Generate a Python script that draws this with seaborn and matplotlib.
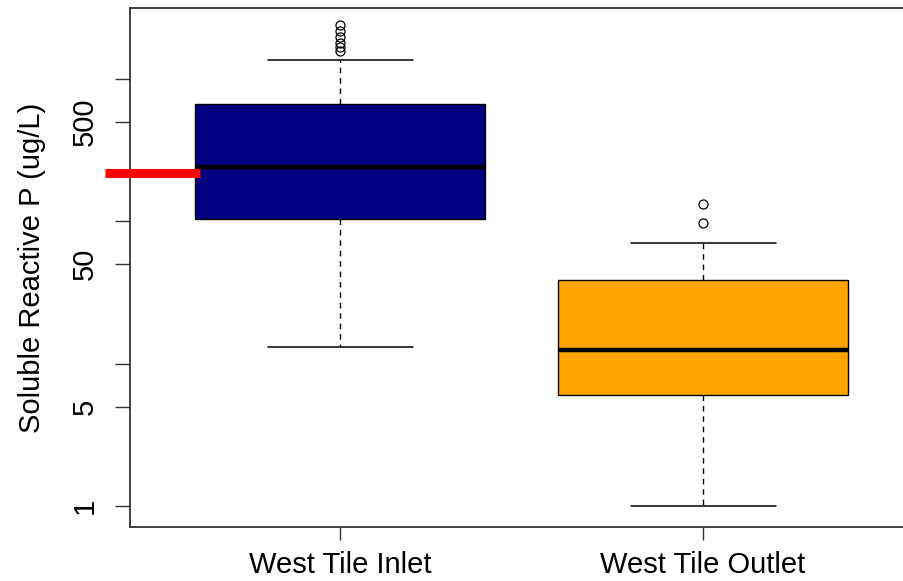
import numpy as np
import pandas as pd
import matplotlib
matplotlib.use("Agg")
import matplotlib.pyplot as plt
import seaborn as sns

# ---------------------------------------------------------
# Data (ug/L)
# ---------------------------------------------------------
sites = ["West Tile Inlet", "West Tile Outlet"]
box_colors = ["#000080", "#FFA500"]

# low whisker, Q1, median, Q3, high whisker
inlet_summary = [13.1, 104, 242, 665, 1362]
outlet_summary = [1.0, 6.03, 12.5, 38.7, 70.9]
inlet_outliers = [1574, 1682, 1794, 1977, 2178, 2400]
outlet_outliers = [97, 132]

target_srp = 220  # red reference mark left of the inlet box

y_ticks = [1, 5, 10, 50, 100, 500, 1000]
y_tick_labels = ["1", "5", "", "50", "", "500", ""]


def sample_from_summary(summary, outliers):
    # sample whose quartiles / whiskers equal the summary (n = 4k + 1)
    lo, q1, med, q3, hi = summary
    k = 1 + len(outliers)
    return [lo] + [q1] * k + [med] * k + [q3] * k + [hi] + list(outliers)


df = pd.concat([
    pd.DataFrame({"site": sites[0], "srp": sample_from_summary(inlet_summary, inlet_outliers)}),
    pd.DataFrame({"site": sites[1], "srp": sample_from_summary(outlet_summary, outlet_outliers)}),
])

# ---------------------------------------------------------
# Plot
# ---------------------------------------------------------
sns.set_style("ticks")
plt.rcParams["font.family"] = ["Liberation Sans", "DejaVu Sans"]
plt.rcParams["text.color"] = "black"
plt.rcParams["axes.labelcolor"] = "black"
plt.rcParams["xtick.labelcolor"] = "black"
plt.rcParams["ytick.labelcolor"] = "black"

fig = plt.figure(figsize=(9.04, 5.81), dpi=100)
ax = fig.add_axes([0.1438, 0.0929, 0.8667, 0.8933])

sns.boxplot(
    data=df, x="site", y="srp", hue="site", order=sites, hue_order=sites,
    palette=box_colors, saturation=1, legend=False, width=0.8,
    linecolor="black", linewidth=1,
    whiskerprops=dict(linestyle=(0, (4, 3.5)), linewidth=1),
    capprops=dict(linestyle="-", linewidth=1.1),
    medianprops=dict(linewidth=3.2, color="black"),
    flierprops=dict(marker="o", markerfacecolor="none", markeredgecolor="black",
                    markersize=6.5, markeredgewidth=0.9),
    ax=ax,
)

ax.set_yscale("log")
ax.set_ylim(0.712, 3162)
ax.set_xlim(-0.58, 1.58)
ax.set_yticks(y_ticks)
ax.set_yticklabels(y_tick_labels)
ax.yaxis.set_minor_locator(matplotlib.ticker.NullLocator())

# red reference mark, drawn outside the plot box on the left
ax.plot([-0.65, -0.386], [target_srp, target_srp], color="red", lw=6.5,
        solid_capstyle="butt", clip_on=False, zorder=5)

for s in ax.spines.values():
    s.set_linewidth(1.3)
    s.set_color("#333333")

ax.tick_params(axis="y", length=10.5, width=1, pad=12, labelsize=21, labelrotation=90,
               color="#333333")
ax.tick_params(axis="x", length=9.5, width=1, pad=8, labelsize=21, color="#333333")
for lbl in ax.get_yticklabels():
    lbl.set_va("center")

ax.set_xlabel("")
ax.set_ylabel("Soluble Reactive P (ug/L)", fontsize=21, labelpad=18)

fig.savefig("out.png", dpi=100)
